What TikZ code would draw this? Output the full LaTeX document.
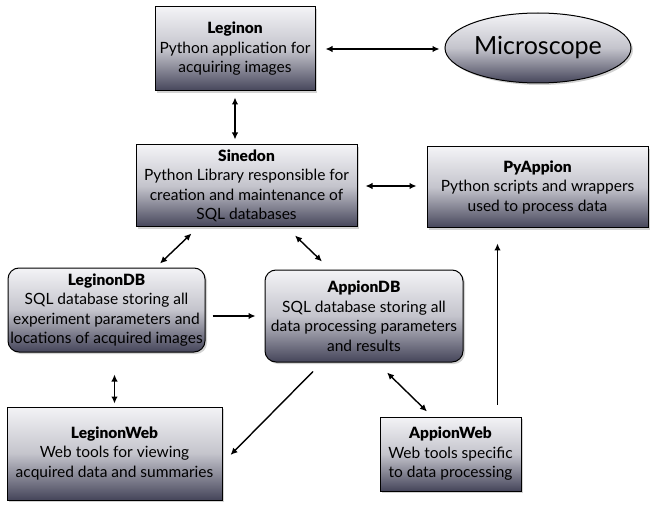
\documentclass[tikz,border=0pt]{standalone}
\usepackage{fontspec}
\setmainfont{Lato}[BoldFont={Lato Black}]
\usetikzlibrary{arrows.meta,shadows,shapes.geometric,calc}
\definecolor{boxtop}{HTML}{F3F3F6}
\definecolor{boxmid}{HTML}{C4C4CC}
\definecolor{boxbot}{HTML}{45455A}
\tikzset{
  box/.style={draw=black, line width=1pt, top color=boxtop, bottom color=boxbot, middle color=boxmid,
    drop shadow={shadow xshift=2pt, shadow yshift=-2pt, opacity=0.35},
    align=center, inner sep=0pt, font=\fontsize{15.5}{19.5}\selectfont},
  rbox/.style={box, rounded corners=11pt},
  conn/.style={line width=1.4pt, {Latex[length=7pt,width=6.5pt]}-{Latex[length=7pt,width=6.5pt]}},
  oneway/.style={line width=1.4pt, -{Latex[length=7pt,width=6.5pt]}},
}
\begin{document}
\begin{tikzpicture}[x=1pt,y=-1pt]
\useasboundingbox (0,0) rectangle (654,508);
\node[box, minimum width=160pt, minimum height=84pt] (leginon) at (235,49)
  {\textbf{Leginon}\\Python application for\\acquiring images};
\node[box, ellipse, minimum width=186pt, minimum height=70pt, font=\fontsize{25}{28}\selectfont] (microscope) at (538,48) {Microscope};
\node[box, minimum width=221pt, minimum height=82pt] (sinedon) at (246.5,186)
  {\textbf{Sinedon}\\Python Library responsible for\\creation and maintenance of\\SQL databases};
\node[box, minimum width=221pt, minimum height=81pt] (pyappion) at (537.5,187.5)
  {\textbf{PyAppion}\\Python scripts and wrappers\\used to process data};
\node[rbox, minimum width=197pt, minimum height=84pt] (leginondb) at (106.5,310)
  {\textbf{LeginonDB}\\SQL database storing all\\experiment parameters and\\locations of acquired images};
\node[rbox, minimum width=198pt, minimum height=92pt] (appiondb) at (364,316)
  {\textbf{AppionDB}\\SQL database storing all\\data processing parameters\\and results};
\node[box, minimum width=215pt, minimum height=93pt] (leginonweb) at (114.5,453.5)
  {\textbf{LeginonWeb}\\Web tools for viewing\\acquired data and summaries};
\node[box, minimum width=141pt, minimum height=74pt] (appionweb) at (450.5,454)
  {\textbf{AppionWeb}\\Web tools specific\\to data processing};

\draw[conn, shorten <=10pt, shorten >=5pt] (leginon.east) -- (leginon.east -| microscope.west);
\draw[conn, shorten <=6pt, shorten >=5pt] (leginon.south) -- (leginon.south |- sinedon.north);
\draw[conn, shorten <=8pt, shorten >=10pt] (sinedon.east) -- (sinedon.east -| pyappion.west);
\draw[conn] ([xshift=56pt,yshift=-6pt]sinedon.south west) -- ([xshift=53.5pt,yshift=4pt]leginondb.north);
\draw[conn] ([xshift=48.5pt,yshift=-8pt]sinedon.south) -- ([xshift=-42pt,yshift=8pt]appiondb.north);
\draw[oneway, shorten <=7pt, shorten >=9pt] (leginondb.east |- appiondb.west) -- (appiondb.west);
\draw[conn, shorten <=22pt, shorten >=3pt] (leginonweb.north |- leginondb.south) -- (leginonweb.north);
\draw[oneway] ([xshift=-51pt,yshift=-9pt]appiondb.south) -- ([xshift=8pt,yshift=-1.5pt]leginonweb.east);
\draw[conn] ([xshift=23pt,yshift=-10pt]appiondb.south) -- ([xshift=-23.5pt,yshift=5pt]appionweb.north);
\coordinate (awtop) at ([xshift=-24pt,yshift=12pt]appionweb.north east);
\draw[oneway, shorten >=15pt] (awtop) -- (awtop |- pyappion.south);
\end{tikzpicture}
\end{document}
